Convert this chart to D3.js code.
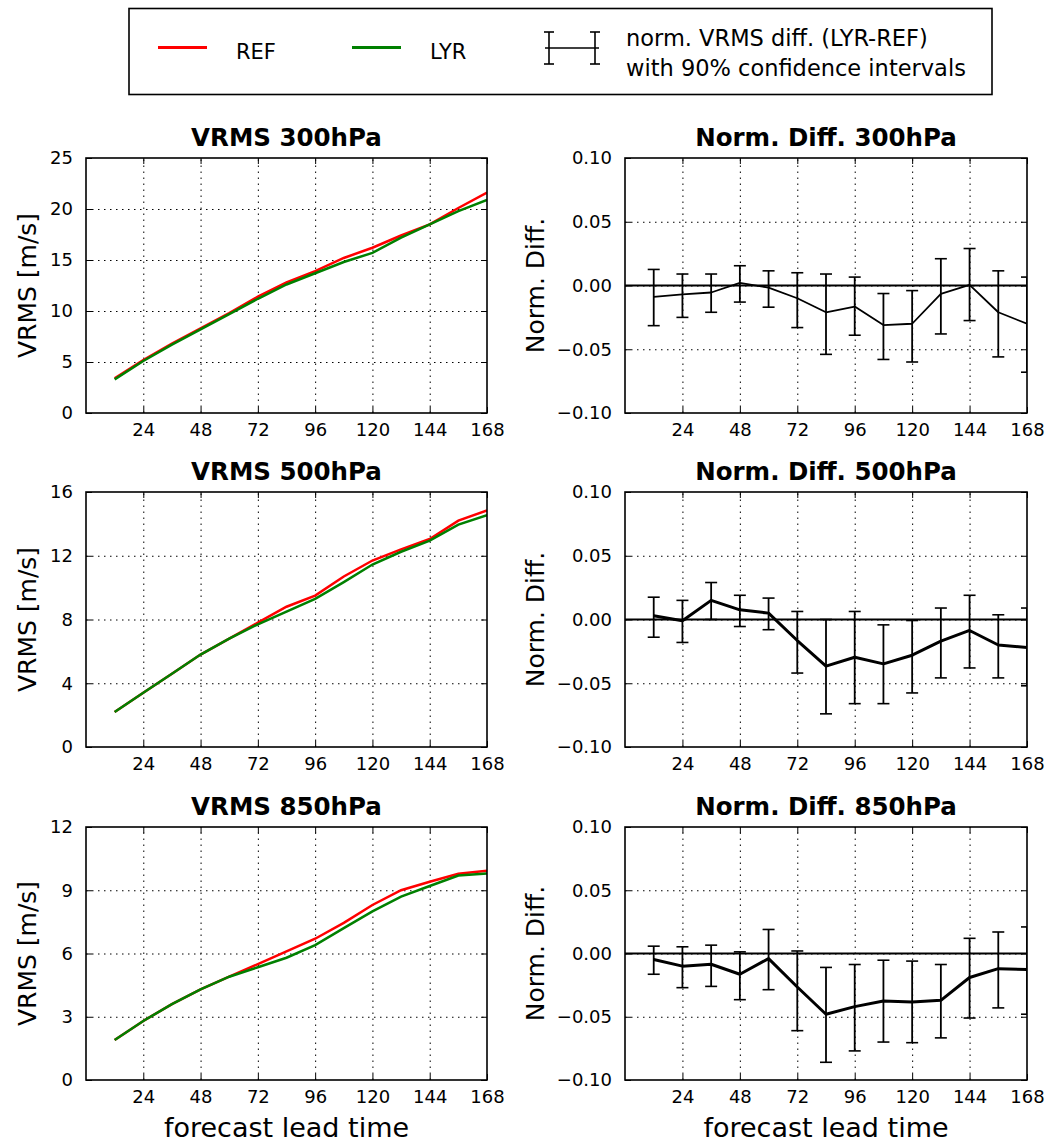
<!DOCTYPE html>
<html>
<head>
<meta charset="utf-8">
<script src="https://cdn.jsdelivr.net/npm/d3@7"></script>
<style>
  body { margin: 0; background: #fff; }
  svg { display: block; font-family: "DejaVu Sans", sans-serif; }
</style>
</head>
<body>
<div id="chart"></div>
<script>
// forecast lead times (hours)
const leadTimes = [12, 24, 36, 48, 60, 72, 84, 96, 108, 120, 132, 144, 156, 168];
const xTicks = [24, 48, 72, 96, 120, 144, 168];
const levels = ["300hPa", "500hPa", "850hPa"];

// VRMS [m/s]
const ref300 = [3.4, 5.2, 6.8, 8.3, 9.8, 11.4, 12.8, 13.9, 15.2, 16.2, 17.4, 18.5, 20.1, 21.6];
const lyr300 = [3.3, 5.1, 6.7, 8.2, 9.7, 11.2, 12.6, 13.7, 14.8, 15.7, 17.2, 18.5, 19.8, 20.9];
const ref500 = [2.2, 3.4, 4.6, 5.8, 6.8, 7.8, 8.8, 9.5, 10.7, 11.7, 12.4, 13.05, 14.2, 14.85];
const lyr500 = [2.2, 3.4, 4.6, 5.8, 6.8, 7.7, 8.5, 9.3, 10.35, 11.45, 12.25, 12.95, 13.95, 14.55];
const ref850 = [1.9, 2.8, 3.6, 4.3, 4.9, 5.5, 6.1, 6.7, 7.45, 8.3, 9.0, 9.4, 9.78, 9.92];
const lyr850 = [1.9, 2.8, 3.6, 4.3, 4.9, 5.35, 5.8, 6.4, 7.2, 8.0, 8.7, 9.2, 9.7, 9.8];
const vrmsTicks300 = [0, 5, 10, 15, 20, 25];
const vrmsTicks500 = [0, 4, 8, 12, 16];
const vrmsTicks850 = [0, 3, 6, 9, 12];

// normalised difference (LYR-REF) and 90% confidence bounds
const diff300 = [-0.009, -0.007, -0.0055, 0.002, -0.0016, -0.010, -0.021, -0.0165, -0.031, -0.030, -0.0066, 0.0005, -0.021, -0.030];
const low300 = [-0.0315, -0.025, -0.021, -0.013, -0.017, -0.033, -0.054, -0.039, -0.058, -0.060, -0.038, -0.0275, -0.056, -0.068];
const high300 = [0.0126, 0.009, 0.009, 0.0155, 0.0115, 0.010, 0.009, 0.0066, -0.0063, -0.004, 0.021, 0.029, 0.0115, 0.0066];
const diff500 = [0.003, -0.001, 0.015, 0.0076, 0.005, -0.0165, -0.0366, -0.0296, -0.0348, -0.028, -0.017, -0.0086, -0.020, -0.022];
const low500 = [-0.0139, -0.018, 0.000, -0.0055, -0.008, -0.042, -0.074, -0.066, -0.066, -0.0576, -0.0458, -0.038, -0.0458, -0.052];
const high500 = [0.0175, 0.015, 0.029, 0.019, 0.0168, 0.0063, 0.000, 0.0063, -0.0042, -0.0008, 0.009, 0.019, 0.0037, 0.009];
const diff850 = [-0.0048, -0.010, -0.0085, -0.0164, -0.004, -0.0265, -0.048, -0.042, -0.0376, -0.0384, -0.037, -0.019, -0.012, -0.0127];
const low850 = [-0.0164, -0.027, -0.026, -0.0365, -0.0286, -0.061, -0.086, -0.077, -0.070, -0.0705, -0.0667, -0.051, -0.043, -0.048];
const high850 = [0.0058, 0.0053, 0.0066, 0.0013, 0.019, 0.002, -0.011, -0.0087, -0.0053, -0.006, -0.0087, 0.012, 0.017, 0.021];
const diffTicks = [-0.10, -0.05, 0.00, 0.05, 0.10];

const width = 1045;
const height = 1144;
const refColor = "#ff0000";
const lyrColor = "#008000";

const svg = d3.select("#chart").append("svg")
  .attr("width", width)
  .attr("height", height);

// panel boxes
const colX = [[86, 487], [625, 1027]];
const rowY = [[158, 413], [492, 747], [827, 1080]];

const vrmsRows = [
  {ref: ref300, lyr: lyr300, ticks: vrmsTicks300},
  {ref: ref500, lyr: lyr500, ticks: vrmsTicks500},
  {ref: ref850, lyr: lyr850, ticks: vrmsTicks850}
];
const diffRows = [
  {diff: diff300, low: low300, high: high300, lw: 1.8},
  {diff: diff500, low: low500, high: high500, lw: 3},
  {diff: diff850, low: low850, high: high850, lw: 3}
];

const fmtDiff = d => d3.format(".2f")(d).replace("-", "\u2212");

function makeAxes(g, xScale, yScale, yTicks, yFormat, w, h, clipId) {
  // dotted grid
  g.append("g")
    .attr("transform", `translate(0, ${h})`)
    .call(d3.axisBottom(xScale).tickValues(xTicks.slice(0, -1)).tickSize(-h).tickFormat(""))
    .call(a => a.select(".domain").remove())
    .selectAll("line")
    .attr("stroke", "#000").attr("stroke-width", 1).attr("stroke-dasharray", "1.5,4.5");
  g.append("g")
    .call(d3.axisLeft(yScale).tickValues(yTicks.slice(1, -1)).tickSize(-w).tickFormat(""))
    .call(a => a.select(".domain").remove())
    .selectAll("line")
    .attr("stroke", "#000").attr("stroke-width", 1).attr("stroke-dasharray", "1.5,4.5");

  // tick labels with inward ticks
  g.append("g")
    .attr("transform", `translate(0, ${h})`)
    .call(d3.axisBottom(xScale).tickValues(xTicks).tickSize(-6).tickPadding(10));
  g.append("g")
    .call(d3.axisLeft(yScale).tickValues(yTicks).tickSize(-6).tickPadding(13).tickFormat(yFormat));
  g.append("g").call(d3.axisTop(xScale).tickValues(xTicks).tickSize(-6).tickFormat(""));
  g.append("g").attr("transform", `translate(${w}, 0)`)
    .call(d3.axisRight(yScale).tickValues(yTicks).tickSize(-6).tickFormat(""));

  g.selectAll(".domain").remove();
  g.selectAll(".tick text")
    .attr("fill", "#000")
    .style("font-size", "18px")
    .style("font-family", "DejaVu Sans, sans-serif");
  g.selectAll(".tick line").filter(function() { return !this.getAttribute("stroke-dasharray"); })
    .attr("stroke", "#000").attr("stroke-width", 1);

  g.append("clipPath").attr("id", clipId)
    .append("rect").attr("width", w).attr("height", h);
}

function drawFrame(g, w, h) {
  g.append("rect")
    .attr("width", w).attr("height", h)
    .attr("fill", "none").attr("stroke", "#000").attr("stroke-width", 1.6);
}

levels.forEach((level, i) => {
  const [top, bottom] = rowY[i];
  const h = bottom - top;

  // ---- VRMS panel ----
  {
    const [left, right] = colX[0];
    const w = right - left;
    const row = vrmsRows[i];
    const xScale = d3.scaleLinear().domain([0, 168]).range([0, w]);
    const yScale = d3.scaleLinear().domain([row.ticks[0], row.ticks[row.ticks.length - 1]]).range([h, 0]);
    const g = svg.append("g").attr("transform", `translate(${left}, ${top})`);
    const clipId = `clip-vrms-${i}`;
    makeAxes(g, xScale, yScale, row.ticks, d3.format("d"), w, h, clipId);

    const line = d3.line().x((d, j) => xScale(leadTimes[j])).y(d => yScale(d));
    g.append("path").datum(row.ref)
      .attr("clip-path", `url(#${clipId})`)
      .attr("fill", "none").attr("stroke", refColor).attr("stroke-width", 2.5)
      .attr("d", line);
    g.append("path").datum(row.lyr)
      .attr("clip-path", `url(#${clipId})`)
      .attr("fill", "none").attr("stroke", lyrColor).attr("stroke-width", 2.5)
      .attr("d", line);

    drawFrame(g, w, h);

    g.append("text")
      .attr("x", w / 2).attr("y", -12)
      .attr("text-anchor", "middle")
      .style("font-size", "24.5px").style("font-weight", "bold")
      .text(`VRMS ${level}`);
    g.append("text")
      .attr("transform", `translate(${27 - left}, ${h / 2}) rotate(-90)`)
      .attr("text-anchor", "middle").attr("dy", "0.35em")
      .style("font-size", "25px")
      .text("VRMS [m/s]");
    if (i === 2) {
      g.append("text")
        .attr("x", w / 2).attr("y", 1137 - top)
        .attr("text-anchor", "middle")
        .style("font-size", "27px")
        .text("forecast lead time");
    }
  }

  // ---- Norm. Diff. panel ----
  {
    const [left, right] = colX[1];
    const w = right - left;
    const row = diffRows[i];
    const xScale = d3.scaleLinear().domain([0, 168]).range([0, w]);
    const yScale = d3.scaleLinear().domain([-0.1, 0.1]).range([h, 0]);
    const g = svg.append("g").attr("transform", `translate(${left}, ${top})`);
    const clipId = `clip-diff-${i}`;
    makeAxes(g, xScale, yScale, diffTicks, fmtDiff, w, h, clipId);

    const plot = g.append("g").attr("clip-path", `url(#${clipId})`);

    // zero line
    plot.append("line")
      .attr("x1", 0).attr("x2", w)
      .attr("y1", yScale(0)).attr("y2", yScale(0))
      .attr("stroke", "#000").attr("stroke-width", 2);

    const line = d3.line().x((d, j) => xScale(leadTimes[j])).y(d => yScale(d));
    plot.append("path").datum(row.diff)
      .attr("fill", "none").attr("stroke", "#000").attr("stroke-width", row.lw)
      .attr("stroke-linejoin", "round")
      .attr("d", line);

    // error bars
    const capW = 6;
    const bars = plot.selectAll("g.err").data(leadTimes).join("g").attr("class", "err");
    bars.append("line")
      .attr("x1", d => xScale(d)).attr("x2", d => xScale(d))
      .attr("y1", (d, j) => yScale(row.low[j])).attr("y2", (d, j) => yScale(row.high[j]))
      .attr("stroke", "#000").attr("stroke-width", 1.8);
    bars.append("line")
      .attr("x1", d => xScale(d) - capW).attr("x2", d => xScale(d) + capW)
      .attr("y1", (d, j) => yScale(row.low[j])).attr("y2", (d, j) => yScale(row.low[j]))
      .attr("stroke", "#000").attr("stroke-width", 1.6);
    bars.append("line")
      .attr("x1", d => xScale(d) - capW).attr("x2", d => xScale(d) + capW)
      .attr("y1", (d, j) => yScale(row.high[j])).attr("y2", (d, j) => yScale(row.high[j]))
      .attr("stroke", "#000").attr("stroke-width", 1.6);

    drawFrame(g, w, h);

    g.append("text")
      .attr("x", w / 2).attr("y", -12)
      .attr("text-anchor", "middle")
      .style("font-size", "24.5px").style("font-weight", "bold")
      .text(`Norm. Diff. ${level}`);
    g.append("text")
      .attr("transform", `translate(${535 - left}, ${h / 2}) rotate(-90)`)
      .attr("text-anchor", "middle").attr("dy", "0.35em")
      .style("font-size", "25px")
      .text("Norm. Diff.");
    if (i === 2) {
      g.append("text")
        .attr("x", w / 2).attr("y", 1137 - top)
        .attr("text-anchor", "middle")
        .style("font-size", "27px")
        .text("forecast lead time");
    }
  }
});

// ---- legend ----
const legend = svg.append("g");
legend.append("rect")
  .attr("x", 129).attr("y", 8.5).attr("width", 863).attr("height", 86)
  .attr("fill", "#fff").attr("stroke", "#000").attr("stroke-width", 1.6);

const legendItems = [
  {label: "REF", color: refColor, x: 158},
  {label: "LYR", color: lyrColor, x: 352}
];
legendItems.forEach(item => {
  legend.append("line")
    .attr("x1", item.x).attr("x2", item.x + 49)
    .attr("y1", 47.5).attr("y2", 47.5)
    .attr("stroke", item.color).attr("stroke-width", 3);
  legend.append("text")
    .attr("x", item.x + 78).attr("y", 59)
    .style("font-size", "21px")
    .text(item.label);
});

// error bar symbol
const eb = legend.append("g").attr("stroke", "#000").attr("stroke-width", 1.6);
eb.append("line").attr("x1", 545).attr("x2", 599).attr("y1", 48).attr("y2", 48);
[549, 595].forEach(x => {
  eb.append("line").attr("x1", x).attr("x2", x).attr("y1", 32).attr("y2", 64);
  eb.append("line").attr("x1", x - 5).attr("x2", x + 5).attr("y1", 32).attr("y2", 32);
  eb.append("line").attr("x1", x - 5).attr("x2", x + 5).attr("y1", 64).attr("y2", 64);
});
legend.append("text").attr("x", 626).attr("y", 46).style("font-size", "22.5px")
  .text("norm. VRMS diff. (LYR-REF)");
legend.append("text").attr("x", 626).attr("y", 76).style("font-size", "22.5px")
  .text("with 90% confidence intervals");
</script>
</body>
</html>
